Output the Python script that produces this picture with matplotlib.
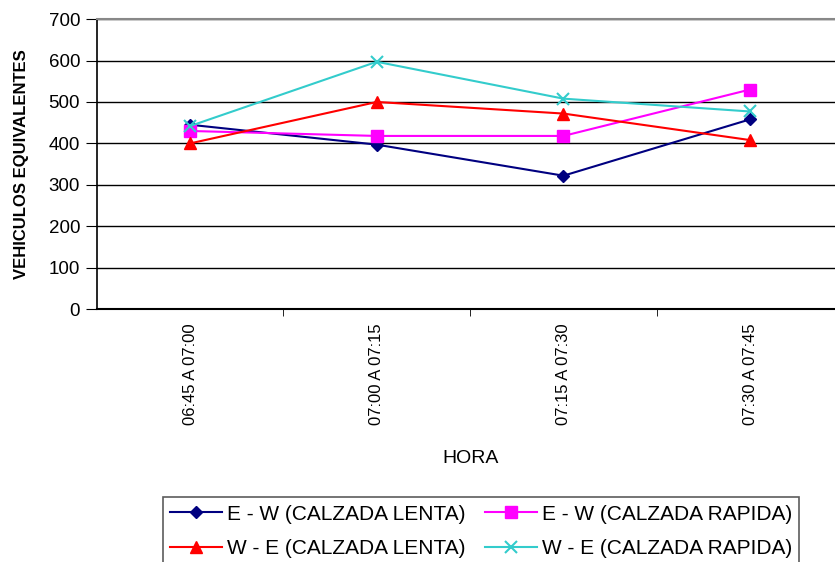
import matplotlib
matplotlib.use("Agg")
import matplotlib.pyplot as plt
import numpy as np

plt.rcParams['font.family'] = ['Liberation Sans', 'DejaVu Sans']

categories = ["06:45 A 07:00", "07:00 A 07:15", "07:15 A 07:30", "07:30 A 07:45"]
ew_lenta = [445, 397, 322, 458]
ew_rapida = [430, 418, 418, 530]
we_lenta = [400, 500, 472, 408]
we_rapida = [442, 597, 508, 477]
labels = ["E - W (CALZADA LENTA)", "E - W (CALZADA RAPIDA)",
          "W - E (CALZADA LENTA)", "W - E (CALZADA RAPIDA)"]
yticks = [0, 100, 200, 300, 400, 500, 600, 700]

fig = plt.figure(figsize=(8.35, 5.62), dpi=100)
ax = fig.add_axes([0.116, 0.450, 0.894, 0.516])

x = np.arange(len(categories))
h1, = ax.plot(x, ew_lenta, color='#000080', marker='D', markersize=6, lw=1.5, label=labels[0])
h2, = ax.plot(x, ew_rapida, color='#FF00FF', marker='s', markersize=8, lw=1.5, label=labels[1])
h3, = ax.plot(x, we_lenta, color='#FF0000', marker='^', markersize=8, lw=1.5, label=labels[2])
h4, = ax.plot(x, we_rapida, color='#33CCCC', marker='x', markersize=8, mew=1.5, lw=1.5, label=labels[3])

ax.set_xlim(-0.5, 3.5)
ax.set_ylim(0, 700)
ax.set_yticks(yticks)
ax.set_yticklabels([str(v) for v in yticks], fontsize=13.5)
ax.yaxis.grid(True, color='black', lw=1)
ax.set_axisbelow(True)

ax.set_xticks(x)
ax.set_xticklabels(categories, rotation=90, fontsize=12)
ax.tick_params(axis='x', length=0, pad=10)
ax.set_xticks([0.5, 1.5, 2.5], minor=True)
ax.tick_params(axis='x', which='minor', length=5, color='black', direction='out')
ax.tick_params(axis='y', length=8, color='black', direction='out', pad=4)

ax.spines['top'].set_color('#888888')
ax.spines['top'].set_linewidth(1.5)
ax.spines['bottom'].set_linewidth(1.5)
ax.spines['left'].set_linewidth(1.2)
ax.spines['right'].set_visible(False)

ax.set_ylabel("VEHICULOS EQUIVALENTES", fontsize=12, fontweight='bold', labelpad=14)
ax.set_xlabel("HORA", fontsize=14, labelpad=18)

leg = fig.legend([h1, h3, h2, h4], [labels[0], labels[2], labels[1], labels[3]],
                 ncol=2, loc='upper left', bbox_to_anchor=(0.195, 0.115),
                 bbox_transform=fig.transFigure, fontsize=15, frameon=True,
                 fancybox=False, edgecolor='#333333', handlelength=2.5,
                 handletextpad=0.25, columnspacing=0.9, borderpad=0.35,
                 labelspacing=0.75, borderaxespad=0)
leg.get_frame().set_linewidth(1.2)

fig.savefig("out.png", dpi=100)
